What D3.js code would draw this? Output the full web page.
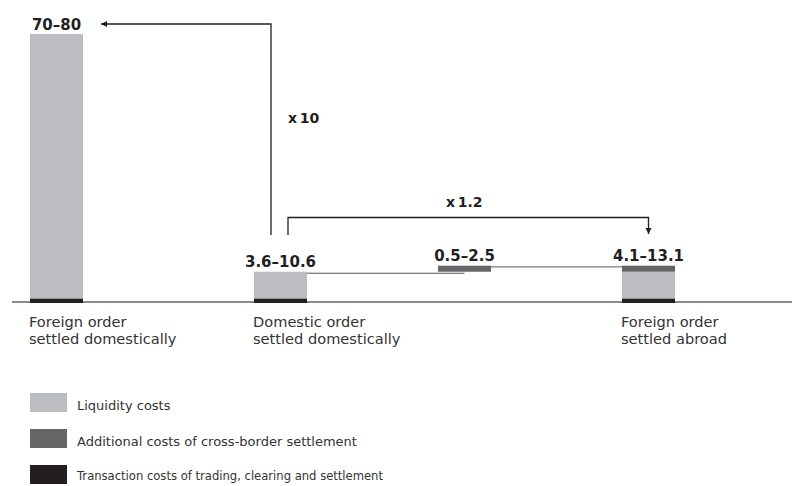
<!DOCTYPE html>
<html>
<head>
<meta charset="utf-8">
<script src="https://cdn.jsdelivr.net/npm/d3@7"></script>
<style>
  html, body { margin: 0; padding: 0; background: #fff; }
  svg { display: block; }
</style>
</head>
<body>
<svg id="chart" width="792" height="486"></svg>
<script>
// ---- Data ----
const categories = ["foreignDomestic", "domesticDomestic", "crossBorder", "foreignAbroad"];
const categoryLabels = [
  ["Foreign order", "settled domestically"],
  ["Domestic order", "settled domestically"],
  [],
  ["Foreign order", "settled abroad"]
];
const transactionCosts = [1.3, 1.3, 0, 1.3];
const liquidityCosts = [78.7, 8.0, 0, 8.0];
const crossBorderCosts = [0, 0, 1.8, 1.8];
const rangeLabels = ["70\u201380", "3.6\u201310.6", "0.5\u20132.5", "4.1\u201313.1"];
const multiplierLabels = ["x\u200910", "x\u20091.2"];
const legendLabels = [
  "Liquidity costs",
  "Additional costs of cross-border settlement",
  "Transaction costs of trading, clearing and settlement"
];
const legendColors = ["#bcbdc0", "#666567", "#231f20"];

// ---- Scales ----
const svg = d3.select("#chart");
const x = d3.scaleOrdinal().domain(categories).range([30, 254, 438, 622]);
const bw = 53;
const y = d3.scaleLinear().domain([0, 80]).range([303, 34]);

// Build stacked segments (waterfall: cross-border bar floats on domestic total)
const domesticTotal = transactionCosts[1] + liquidityCosts[1];
const rows = categories.map((c, i) => {
  const base = c === "crossBorder" ? domesticTotal : 0;
  const t0 = base, t1 = t0 + transactionCosts[i];
  const l0 = t1, l1 = l0 + liquidityCosts[i];
  const b0 = l1, b1 = b0 + crossBorderCosts[i];
  return { c, i, base, segs: [
    { key: "liq", y0: l0, y1: l1, color: legendColors[0] },
    { key: "cb", y0: b0, y1: b1, color: legendColors[1] },
    { key: "tr", y0: t0, y1: t1, color: legendColors[2] }
  ], top: b1 };
});

// baseline
svg.append("line")
  .attr("x1", 12).attr("x2", 792)
  .attr("y1", y(0) - 1).attr("y2", y(0) - 1)
  .attr("stroke", "#8a8a8a").attr("stroke-width", 2);

// connector lines
const r1 = rows[1], r2 = rows[2], r3 = rows[3];
svg.append("line")
  .attr("x1", x(r1.c) + bw).attr("x2", x(r2.c) + bw / 2)
  .attr("y1", y(r1.top) + 1.5).attr("y2", y(r1.top) + 1.5)
  .attr("stroke", "#555").attr("stroke-width", 1);
svg.append("line")
  .attr("x1", x(r2.c) + bw).attr("x2", x(r3.c))
  .attr("y1", y(r2.top) + 1.2).attr("y2", y(r2.top) + 1.2)
  .attr("stroke", "#555").attr("stroke-width", 1);

// bars
const g = svg.append("g");
rows.forEach(r => {
  g.selectAll(null)
    .data(r.segs.filter(s => s.y1 > s.y0))
    .join("rect")
    .attr("x", x(r.c))
    .attr("width", bw)
    .attr("y", s => y(s.y1))
    .attr("height", s => y(s.y0) - y(s.y1))
    .attr("fill", s => s.color);
});

// range labels
svg.selectAll("text.range")
  .data(rows)
  .join("text")
  .attr("class", "range")
  .attr("x", r => x(r.c) + bw / 2)
  .attr("y", r => y(r.top) - 4.5)
  .attr("text-anchor", "middle")
  .attr("font-family", "DejaVu Sans, sans-serif")
  .attr("font-weight", "bold")
  .attr("font-size", 15)
  .attr("fill", "#231f20")
  .text(r => rangeLabels[r.i]);

// arrows
const defs = svg.append("defs");
defs.append("marker")
  .attr("id", "ah")
  .attr("viewBox", "0 0 10 10")
  .attr("refX", 10).attr("refY", 5)
  .attr("markerWidth", 6).attr("markerHeight", 7)
  .attr("markerUnits", "userSpaceOnUse")
  .attr("orient", "auto")
  .append("path").attr("d", "M0,0 L10,5 L0,10 z").attr("fill", "#231f20");

const a1x = x(categories[1]) + 17;
const a1y = y(80) - 10;
svg.append("path")
  .attr("d", `M${a1x},235 V${a1y} H${x(categories[0]) + bw + 18}`)
  .attr("fill", "none").attr("stroke", "#231f20").attr("stroke-width", 1.3)
  .attr("marker-end", "url(#ah)");

const a2x0 = x(categories[1]) + 34;
const a2x1 = x(categories[3]) + bw / 2;
svg.append("path")
  .attr("d", `M${a2x0},235 V217.5 H${a2x1} V234`)
  .attr("fill", "none").attr("stroke", "#231f20").attr("stroke-width", 1.3)
  .attr("marker-end", "url(#ah)");

svg.append("text")
  .attr("x", a1x + 17).attr("y", 123)
  .attr("font-family", "DejaVu Sans, sans-serif").attr("font-weight", "bold")
  .attr("font-size", 14).attr("fill", "#231f20")
  .text(multiplierLabels[0]);
svg.append("text")
  .attr("x", (a2x0 + a2x1) / 2 - 4).attr("y", 207)
  .attr("text-anchor", "middle")
  .attr("font-family", "DejaVu Sans, sans-serif").attr("font-weight", "bold")
  .attr("font-size", 14).attr("fill", "#231f20")
  .text(multiplierLabels[1]);

// category labels (one text element per line)
rows.forEach(r => {
  categoryLabels[r.i].forEach((line, k) => {
    svg.append("text")
      .attr("x", x(r.c) - 1).attr("y", 327 + k * 17)
      .attr("font-family", "DejaVu Sans, sans-serif")
      .attr("font-size", 14.6)
      .attr("fill", "#333")
      .text(line);
  });
});

// legend
const lg = svg.append("g");
legendLabels.forEach((lab, i) => {
  const yy = 393 + i * 36;
  lg.append("rect").attr("x", 30).attr("y", yy).attr("width", 37).attr("height", 19)
    .attr("fill", legendColors[i]);
  const t = lg.append("text").attr("x", 77).attr("y", yy + 17 - (i === 2 ? 2 : 0))
    .attr("font-family", "DejaVu Sans, sans-serif")
    .attr("font-size", 13).attr("fill", "#333")
    .text(lab);
  if (i === 2) t.attr("textLength", 306).attr("lengthAdjust", "spacingAndGlyphs");
});
</script>
</body>
</html>
